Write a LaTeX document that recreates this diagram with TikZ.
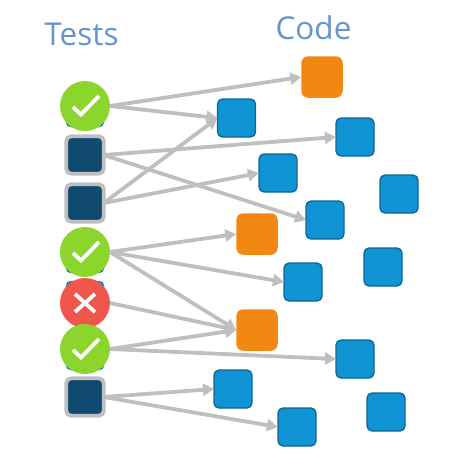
\documentclass[tikz,border=0pt]{standalone}
\usepackage{fontspec}
\setmainfont{Open Sans}
\usetikzlibrary{arrows.meta}
\definecolor{blueF}{HTML}{1093D2}
\definecolor{blueD}{HTML}{0B6595}
\definecolor{orangeF}{HTML}{F18812}
\definecolor{darkF}{HTML}{114A70}
\definecolor{greyL}{HTML}{BFBFBF}
\definecolor{greenF}{HTML}{8BD52D}
\definecolor{redF}{HTML}{EF564C}
\definecolor{titleC}{HTML}{6497C9}
\tikzset{
 x=1pt,y=-1pt,
 codebox/.style={draw=blueD,line width=1.3pt,fill=blueF,rounded corners=5pt,minimum size=38pt,inner sep=0pt,outer sep=0pt},
 hotbox/.style={draw=none,fill=orangeF,rounded corners=7pt,minimum size=41.5pt,inner sep=0pt,outer sep=0pt},
 testbox/.style={draw=greyL,line width=3.8pt,fill=darkF,rounded corners=5pt,minimum size=37.5pt,inner sep=0pt,outer sep=0pt},
 hidbox/.style={draw=blueD,fill=blueF,rounded corners=5pt,minimum size=38pt,inner sep=0pt},
 passc/.style={circle,fill=greenF,minimum size=50pt,inner sep=0pt,outer sep=0pt},
 failc/.style={circle,fill=redF,minimum size=50pt,inner sep=0pt,outer sep=0pt},
 link/.style={draw=greyL,line width=3.8pt,-{Triangle[length=11pt,width=12pt]}},
 mark line/.style={draw=white,line width=3.8pt,miter limit=2},
 titletext/.style={text=titleC,font=\fontsize{31.5}{34}\selectfont,inner sep=0pt}
}
\begin{document}
\begin{tikzpicture}
\useasboundingbox (0,0) rectangle (467,467);
\node[titletext] (h1) at (81.5,34) {Tests};
\node[titletext] (h2) at (313.5,28) {Code};
% code
\node[hotbox] (o1) at (322,77) {};
\node[codebox] (a) at (236.5,118) {};
\node[codebox] (b) at (355,137) {};
\node[codebox] (c) at (278,173) {};
\node[codebox] (d) at (399,194) {};
\node[codebox] (e) at (325,220) {};
\node[hotbox] (o2) at (257,234) {};
\node[codebox] (f) at (383,267) {};
\node[codebox] (g) at (303,282) {};
\node[hotbox] (o3) at (257,330) {};
\node[codebox] (h) at (355,359) {};
\node[codebox] (i) at (233,389) {};
\node[codebox] (j) at (386,412) {};
\node[codebox] (k) at (297,427) {};
% tests
\node[hidbox] at (85,108) {};
\node[hidbox] at (85,254) {};
\node[hidbox] at (85,300) {};
\node[hidbox] at (85,351) {};
\node[testbox] (t2) at (85,155) {};
\node[testbox] (t3) at (85,203) {};
\node[testbox] (t7) at (85,397) {};
\node[passc] (t1) at (85,106) {};
\node[passc] (t4) at (85,252) {};
\node[failc] (t5) at (85,303) {};
\node[passc] (t6) at (85,349) {};
% links
\draw[link] (t1.east) -- (o1.west);
\draw[link] (t1.east) -- (a.west);
\draw[link] (t2.east) -- (b.west);
\draw[link] (t2.east) -- (e.west);
\draw[link] (t3.east) -- (a.west);
\draw[link] (t3.east) -- (c.west);
\draw[link] (t4.east) -- (o2.west);
\draw[link] (t4.east) -- (g.west);
\draw[link] (t4.east) -- (o3.west);
\draw[link] (t5.east) -- (o3.west);
\draw[link] (t6.east) -- (o3.west);
\draw[link] (t6.east) -- (h.west);
\draw[link] (t7.east) -- (i.west);
\draw[link] (t7.east) -- (k.west);
% marks
\foreach \n in {t1,t4,t6}{
 \draw[mark line] ([shift={(-12,1)}]\n.center) -- ([shift={(-4,8.5)}]\n.center) -- ([shift={(14,-10)}]\n.center);
}
\draw[mark line] ([shift={(-10,-9)}]t5.center) -- ([shift={(10,9)}]t5.center);
\draw[mark line] ([shift={(-10,9)}]t5.center) -- ([shift={(10,-9)}]t5.center);
\end{tikzpicture}
\end{document}
